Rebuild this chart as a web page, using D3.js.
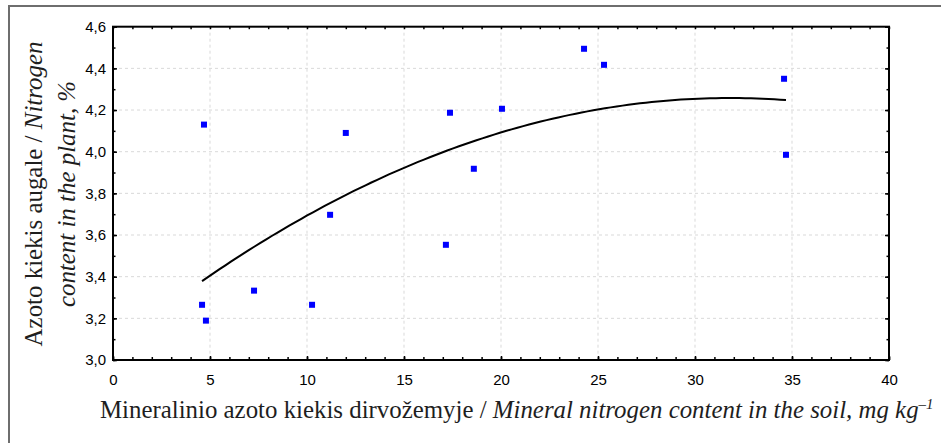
<!DOCTYPE html>
<html>
<head>
<meta charset="utf-8">
<script src="https://cdn.jsdelivr.net/npm/d3@7"></script>
<style>
  body { margin: 0; background: #fff; }
  .tick-label { font-family: 'Liberation Sans', Arial, sans-serif; font-size: 15px; fill: #000; }
</style>
</head>
<body>
<div id="chart"></div>
<script>
// soil mineral N (mg/kg) vs plant N (%)
const soilN = [4.69, 12.0, 17.37, 20.05, 18.6, 11.19, 17.16, 7.27, 4.59, 4.79, 10.26, 24.28, 25.31, 34.59, 34.69]
const plantN = [4.13, 4.09, 4.187, 4.206, 3.918, 3.697, 3.553, 3.333, 3.265, 3.189, 3.265, 4.494, 4.417, 4.35, 3.985]

// quadratic fit shown in the figure: y = a + b x + c x^2
const fitCoef = [3.057, 0.0755, -0.001187]

const xTicks = [0, 5, 10, 15, 20, 25, 30, 35, 40]
const yTicks = [3.0, 3.2, 3.4, 3.6, 3.8, 4.0, 4.2, 4.4, 4.6]

const W = 941
const H = 443
const margin = { top: 26.7, right: 52, bottom: 83, left: 113 }
const width = W - margin.left - margin.right
const height = H - margin.top - margin.bottom
const SERIF = "'Liberation Serif', 'Times New Roman', serif"

const svg = d3.select('#chart').append('svg')
  .attr('width', W)
  .attr('height', H)

// outer frame of the figure (cropped at right/bottom)
svg.append('rect')
  .attr('x', 9).attr('y', 6)
  .attr('width', W).attr('height', H)
  .attr('fill', 'none')
  .attr('stroke', '#6e6e6e')
  .attr('stroke-width', 2)

const g = svg.append('g')
  .attr('transform', `translate(${margin.left},${margin.top})`)

const x = d3.scaleLinear().domain([0, 40]).range([0, width])
const y = d3.scaleLinear().domain([3.0, 4.6]).range([height, 0])

const fmt = d => d3.format('.1f')(d).replace('.', ',')

// grid
g.append('g').selectAll('line')
  .data(xTicks.slice(1, -1))
  .join('line')
  .attr('x1', d => x(d)).attr('x2', d => x(d))
  .attr('y1', 0).attr('y2', height)
  .attr('stroke', '#d9d9d9').attr('stroke-dasharray', '3,3')

g.append('g').selectAll('line')
  .data(yTicks.slice(1, -1))
  .join('line')
  .attr('x1', 0).attr('x2', width)
  .attr('y1', d => y(d)).attr('y2', d => y(d))
  .attr('stroke', '#d9d9d9').attr('stroke-dasharray', '3,3')

// axes with inward ticks
const xMinor = d3.range(0, 41, 1)
const yMinor = d3.range(3.0, 4.601, 0.1)

const styleAxis = (sel) => {
  sel.select('.domain').remove()
  sel.selectAll('.tick line').attr('stroke', '#000').attr('stroke-width', 1.5)
}
const styleLabels = (a) => a.selectAll('text')
  .attr('class', 'tick-label').attr('fill', null).attr('font-size', null).attr('font-family', null)

g.append('g')
  .attr('transform', `translate(0,${height})`)
  .call(d3.axisBottom(x).tickValues(xMinor).tickSize(-3).tickFormat(''))
  .call(styleAxis)
g.append('g')
  .attr('transform', `translate(0,${height})`)
  .call(d3.axisBottom(x).tickValues(xTicks).tickSize(-4).tickPadding(14).tickFormat(d3.format('d')))
  .call(styleAxis)
  .call(styleLabels)

g.append('g')
  .call(d3.axisTop(x).tickValues(xMinor).tickSize(-2.5).tickFormat(''))
  .call(styleAxis)

g.append('g')
  .call(d3.axisLeft(y).tickValues(yMinor).tickSize(-2.5).tickFormat(''))
  .call(styleAxis)
g.append('g')
  .call(d3.axisLeft(y).tickValues(yTicks).tickSize(-4).tickPadding(7).tickFormat(fmt))
  .call(styleAxis)
  .call(styleLabels)

g.append('g')
  .attr('transform', `translate(${width},0)`)
  .call(d3.axisRight(y).tickValues(yMinor).tickSize(-2.5).tickFormat(''))
  .call(styleAxis)
g.append('g')
  .attr('transform', `translate(${width},0)`)
  .call(d3.axisRight(y).tickValues(yTicks).tickSize(-4).tickFormat(''))
  .call(styleAxis)

// plot frame
g.append('rect')
  .attr('width', width).attr('height', height)
  .attr('fill', 'none').attr('stroke', '#000').attr('stroke-width', 2)

// fitted curve
const [xLo, xHi] = d3.extent(soilN)
const fit = v => fitCoef[0] + fitCoef[1] * v + fitCoef[2] * v * v
const curveX = d3.range(xLo, xHi, (xHi - xLo) / 100).concat([xHi])
g.append('path')
  .datum(curveX)
  .attr('fill', 'none')
  .attr('stroke', '#000')
  .attr('stroke-width', 2)
  .attr('d', d3.line().x(d => x(d)).y(d => y(fit(d))))

// points
const points = soilN.map((v, i) => ({ x: v, y: plantN[i] }))
g.selectAll('.dot')
  .data(points)
  .join('rect')
  .attr('class', 'dot')
  .attr('x', d => x(d.x) - 3)
  .attr('y', d => y(d.y) - 3)
  .attr('width', 6).attr('height', 6)
  .attr('fill', '#0000ff')

// fit a text element to a target width by scaling its font size
const fitText = (text, target, base) => {
  text.attr('font-size', base)
  const len = text.node().getComputedTextLength()
  const size = base * target / len
  text.attr('font-size', size)
  return size
}

// x title
const xt = svg.append('text')
  .attr('font-family', SERIF)
  .attr('fill', '#1e1e1e')
  .attr('x', 100)
  .attr('y', 418)
xt.append('tspan').text('Mineralinio azoto kiekis dirvožemyje / ')
xt.append('tspan').attr('font-style', 'italic').text('Mineral nitrogen content in the soil, mg kg')
xt.append('tspan').attr('font-style', 'italic').attr('dy', -9).attr('font-size', '0.6em').text('–1')
fitText(xt, 834, 22)

// y title, two rotated lines
const yt1 = svg.append('text')
  .attr('font-family', SERIF)
  .attr('fill', '#1e1e1e')
  .attr('text-anchor', 'middle')
  .attr('transform', 'translate(42,194) rotate(-90)')
yt1.append('tspan').text('Azoto kiekis augale / ')
yt1.append('tspan').attr('font-style', 'italic').text('Nitrogen')
fitText(yt1, 305, 22)

svg.append('text')
  .attr('font-family', SERIF)
  .attr('fill', '#1e1e1e')
  .attr('text-anchor', 'middle')
  .attr('font-style', 'italic')
  .attr('font-size', yt1.attr('font-size'))
  .attr('transform', 'translate(75,194) rotate(-90)')
  .text('content in the plant, %')
</script>
</body>
</html>
